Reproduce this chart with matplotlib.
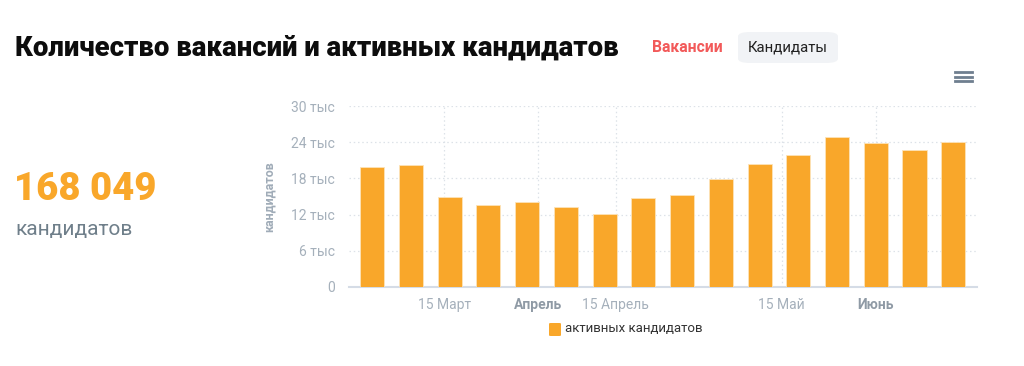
import matplotlib
matplotlib.use("Agg")
import matplotlib.pyplot as plt
import matplotlib.dates as mdates
from matplotlib.patches import FancyBboxPatch
import datetime as dt

plt.rcParams['font.family'] = ['Roboto', 'DejaVu Sans']

# ---- data ----
week_starts = [dt.date(2020, 3, 2) + dt.timedelta(days=7 * i) for i in range(16)]
candidates = [19900, 20200, 14900, 13650, 14150, 13200, 12100, 14700,
              15250, 17900, 20400, 21900, 24800, 23800, 22700, 24000]
y_ticks = [0, 6000, 12000, 18000, 24000, 30000]
y_tick_labels = ["0", "6 тыс", "12 тыс", "18 тыс", "24 тыс", "30 тыс"]
x_tick_dates = [dt.date(2020, 3, 15), dt.date(2020, 4, 1), dt.date(2020, 4, 15),
                dt.date(2020, 5, 15), dt.date(2020, 6, 1)]
x_tick_labels = ["15 Март", "Апрель", "15 Апрель", "15 Май", "Июнь"]
x_tick_bold = [False, True, False, False, True]
total_text = "168 049"
series_name = "активных кандидатов"

W, H = 1024, 366
fig = plt.figure(figsize=(W / 100, H / 100), dpi=100)

# axes placement in pixels
left, right, top, bottom = 349, 977, 106, 287
ax = fig.add_axes([left / W, 1 - bottom / H, (right - left) / W, (bottom - top) / H])

bar_color = "#F9A72A"
x = mdates.date2num(week_starts)
ax.bar(x, candidates, width=4.35, color=bar_color, edgecolor="#fde3b8", linewidth=0.6, zorder=3)

x0 = mdates.date2num(dt.date(2020, 3, 2)) - 4.2
x1 = mdates.date2num(dt.date(2020, 6, 15)) + 4.3
ax.set_xlim(x0, x1)
ax.set_ylim(0, 30000)

ax.set_yticks(y_ticks)
ax.set_yticklabels(y_tick_labels)
ax.set_xticks(mdates.date2num(x_tick_dates))
ax.set_xticklabels(x_tick_labels)
for lbl, b in zip(ax.get_xticklabels(), x_tick_bold):
    if b:
        lbl.set_fontweight("bold")
        lbl.set_color("#8f9aa5")
    else:
        lbl.set_color("#a5b0bb")
for lbl in ax.get_yticklabels():
    lbl.set_color("#a5b0bb")
ax.tick_params(axis="y", length=0, pad=10, labelsize=10)
ax.tick_params(axis="x", length=0, pad=8, labelsize=10)

ax.grid(True, axis="both", color="#dde2e8", linestyle=(0, (1.2, 2.2)), linewidth=0.9, zorder=0)
for s in ["top", "right", "left"]:
    ax.spines[s].set_visible(False)
ax.spines["bottom"].set_color("#d5dce6")
ax.spines["bottom"].set_linewidth(1.5)

ax.set_ylabel("кандидатов", color="#a0acb8", fontsize=9, fontweight="bold")
ax.yaxis.set_label_coords((276 - left) / (right - left), 0.5)

# ---- title & side texts ----
fig.text(15 / W, 1 - 48 / H, "Количество вакансий и активных кандидатов",
         fontsize=19.8, fontweight=900, color="#0d0d0d", va="center", ha="left")
fig.text(652 / W, 1 - 47 / H, "Вакансии", fontsize=11.3, fontweight="bold",
         color="#f25a5a", va="center", ha="left")
btn = FancyBboxPatch((738 / W, 1 - 63 / H), 100 / W, 31 / H,
                     boxstyle="round,pad=0,rounding_size=0.012",
                     transform=fig.transFigure, facecolor="#f1f3f6", edgecolor="none")
fig.patches.append(btn)
fig.text(788 / W, 1 - 47 / H, "Кандидаты", fontsize=10.8, color="#222222",
         va="center", ha="center")

# hamburger
for yy in [72, 76.5, 81]:
    fig.add_artist(plt.Line2D([955 / W, 972 / W], [1 - yy / H, 1 - yy / H],
                              transform=fig.transFigure, color="#6f7f8f", linewidth=2))

fig.text(14 / W, 1 - 190 / H, total_text, fontsize=27.5, fontweight=900,
         color="#F9A72A", va="center", ha="left")
fig.text(15 / W, 1 - 229 / H, "кандидатов", fontsize=15, color="#6f7f8a",
         va="center", ha="left")

# legend
leg = FancyBboxPatch((549 / W, 1 - 336 / H), 12 / W, 13 / H,
                     boxstyle="round,pad=0,rounding_size=0.002",
                     transform=fig.transFigure, facecolor=bar_color, edgecolor="none")
fig.patches.append(leg)
fig.text(565 / W, 1 - 329 / H, series_name, fontsize=9.5, color="#333333",
         va="center", ha="left")

fig.savefig("out.png", dpi=100, facecolor="white")
